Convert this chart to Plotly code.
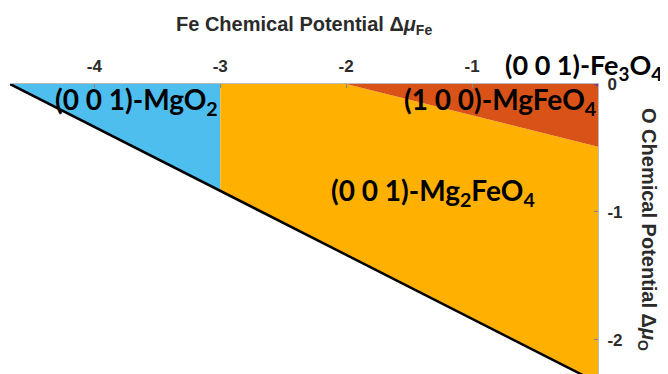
import plotly.graph_objects as go

# Phase regions (Fe chemical potential x, O chemical potential y)
x_min = -4.67
diag_x = [x_min, 0.0]
diag_y = [0.0, -2.335]

mgo2_x = [x_min, -3.0, -3.0]
mgo2_y = [0.0, 0.0, -0.835]

mg2feo4_x = [-3.0, -2.0, 0.0, 0.0, -3.0]
mg2feo4_y = [0.0, 0.0, -0.49, -2.335, -0.835]

mgfeo4_x = [-2.0, 0.0, 0.0]
mgfeo4_y = [0.0, 0.0, -0.49]

fe3o4_x = [-0.04, 0.0, 0.0]
fe3o4_y = [0.0, 0.0, -0.02]

x_ticks = [-4, -3, -2, -1]
x_ticktext = ["-4", "-3", "-2", "-1"]
y_ticks = [0, -1, -2]
y_ticktext = ["0", "-1", "-2"]

labels = ["(0 0 1)-MgO<sub>2</sub>", "(1 0 0)-MgFeO<sub>4</sub>",
          "(0 0 1)-Mg<sub>2</sub>FeO<sub>4</sub>"]
label_x = [-3.667, -0.78, -1.31]
label_y = [-0.13, -0.13, -0.84]

fe3o4_label = "(0 0 1)-Fe<sub>3</sub>O<sub>4</sub>"

fig = go.Figure()
for xs, ys, col in [(mgo2_x, mgo2_y, "#4DBEEE"),
                    (mg2feo4_x, mg2feo4_y, "#FFB000"),
                    (mgfeo4_x, mgfeo4_y, "#D95319"),
                    (fe3o4_x, fe3o4_y, "#7E2F8E")]:
    fig.add_trace(go.Scatter(x=xs, y=ys, fill="toself", fillcolor=col,
                             mode="none", hoverinfo="skip", showlegend=False))
fig.add_trace(go.Scatter(x=diag_x, y=diag_y, mode="lines",
                         line=dict(color="black", width=2.5), showlegend=False))

lab_font = dict(family="Lato", size=28, color="black", weight="bold")
for t, xx, yy in zip(labels, label_x, label_y):
    fig.add_annotation(x=xx, y=yy, xref="x", yref="y", text=t, showarrow=False,
                       font=lab_font, yanchor="middle", xanchor="center")
fig.add_annotation(x=1, y=1, xref="paper", yref="paper", xshift=66, yshift=18,
                   text=fe3o4_label, showarrow=False,
                   font=dict(family="Lato", size=27, color="black", weight="bold"),
                   yanchor="middle", xanchor="right")

title_font = dict(family="Liberation Sans", size=20, color="#2b2b2b", weight="bold")
fig.add_annotation(x=0.5, y=1, xref="paper", yref="paper", yshift=59,
                   text="Fe Chemical Potential Δ<i>μ</i><sub>Fe</sub>", showarrow=False,
                   font=title_font, yanchor="middle", xanchor="center")
fig.add_annotation(x=1.0, y=0.5, xref="paper", yref="paper", xshift=50,
                   text="O Chemical Potential Δ<i>μ</i><sub>O</sub>", textangle=90,
                   showarrow=False, font=title_font, xanchor="center", yanchor="middle")

tick_font = dict(family="Liberation Sans", size=17, color="#2b2b2b", weight="bold")
# page body has an 8px margin: figure sized/positioned to fill the window exactly
fig.update_layout(
    width=660, height=366,
    margin=dict(l=2, r=70, t=76, b=0),
    paper_bgcolor="white", plot_bgcolor="white",
    xaxis=dict(range=[x_min, 0], side="top", tickvals=x_ticks, ticktext=x_ticktext,
               ticks="inside", ticklen=4, tickcolor="#888", automargin=False,
               ticklabelstandoff=4,
               showgrid=False, zeroline=False, showline=True, linecolor="#bbb", linewidth=1,
               tickfont=tick_font),
    yaxis=dict(range=[-2.266, 0], side="right", tickvals=y_ticks, ticktext=y_ticktext,
               ticks="inside", ticklen=4, tickcolor="#888", automargin=False,
               ticklabelstandoff=5,
               showgrid=False, zeroline=False, showline=True, linecolor="#bbb", linewidth=1,
               tickfont=tick_font),
)

fig.write_html("out.html")
